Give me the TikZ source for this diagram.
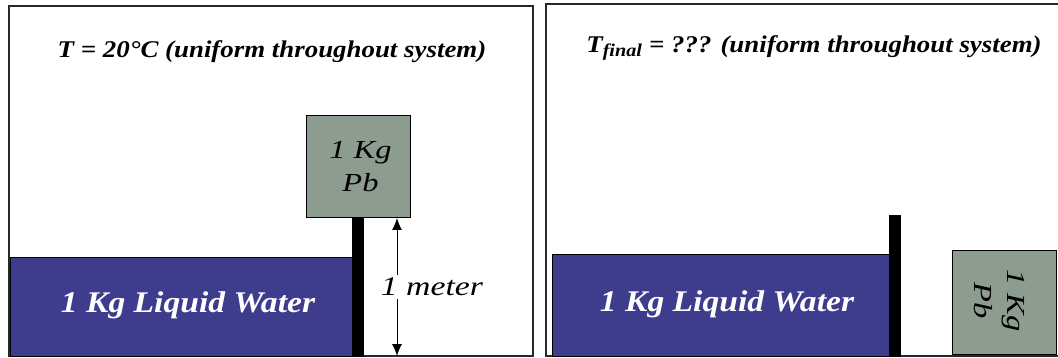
\documentclass[tikz,border=0pt]{standalone}
\usepackage{fontspec}
\setmainfont{Liberation Serif}
\usetikzlibrary{arrows.meta}
\definecolor{waterblue}{RGB}{62,60,140}
\definecolor{leadgrey}{RGB}{140,156,142}
\definecolor{framegrey}{RGB}{40,40,40}
\tikzset{
  panel/.style={draw=framegrey, line width=1.8pt},
  water/.style={draw=black, line width=1pt, fill=waterblue, text=white, inner sep=0pt, anchor=north west,
    font=\fontsize{30}{32}\selectfont\bfseries\itshape\addfontfeature{FakeStretch=1.12}},
  lead/.style={draw=black, line width=1pt, fill=leadgrey, inner sep=0pt, anchor=north west},
  leadtext/.style={align=center, inner sep=0pt, font=\fontsize{26}{33}\selectfont\itshape\addfontfeature{FakeStretch=1.25}},
  wall/.style={fill=black, draw=none},
  title/.style={inner sep=0pt, font=\fontsize{24}{28}\selectfont\bfseries\itshape\addfontfeature{FakeStretch=1.12}},
  dimarrow/.style={line width=1pt, -{Latex[length=12pt,width=10pt]}},
}
\begin{document}
\begin{tikzpicture}[x=1pt,y=-1pt]
\useasboundingbox (0,0) rectangle (1058,358);
\clip (0,0) rectangle (1058,358);
% left panel
\draw[panel] (9,6) rectangle (533,356);
\node[title] (t1) at (272,52) {T = 20°C (uniform throughout system)};
\node[water, minimum width=343pt, minimum height=99pt] (w1) at (10,257) {\hspace{12pt}\raisebox{9pt}{1 Kg Liquid Water}};
\fill[wall] (352,217) rectangle (364,357);
\node[lead, minimum width=104pt, minimum height=102pt] (p1) at (306,115) {};
\node[leadtext] (p1t) at ([xshift=2pt,yshift=0pt]p1.center) {1 Kg\\Pb};
\coordinate (a1top) at (397,218);
\coordinate (a1bot) at (397,356);
\node[font=\fontsize{27}{30}\selectfont\itshape\addfontfeature{FakeStretch=1.25}, inner sep=3pt] (m1) at (432,287) {1 meter};
\draw[dimarrow] (m1.north -| a1top) -- (a1top);
\draw[dimarrow] (m1.south -| a1top) -- (a1bot);
% right panel
\draw[panel] (546,4) rectangle (1070,356);
\node[title] (t2) at (814,48) {T\textsubscript{\fontsize{18}{18}\selectfont final} = ??? (uniform throughout system)};
\node[water, minimum width=337pt, minimum height=102pt] (w2) at (552,254) {\hspace{12pt}\raisebox{9pt}{1 Kg Liquid Water}};
\fill[wall] (889,215) rectangle (901,357);
\node[lead, minimum width=104pt, minimum height=104pt] (p2) at (952,250) {};
\node[leadtext, rotate=-90] (p2t) at ([xshift=-5pt,yshift=2pt]p2.center) {1 Kg\\Pb};
\end{tikzpicture}
\end{document}
